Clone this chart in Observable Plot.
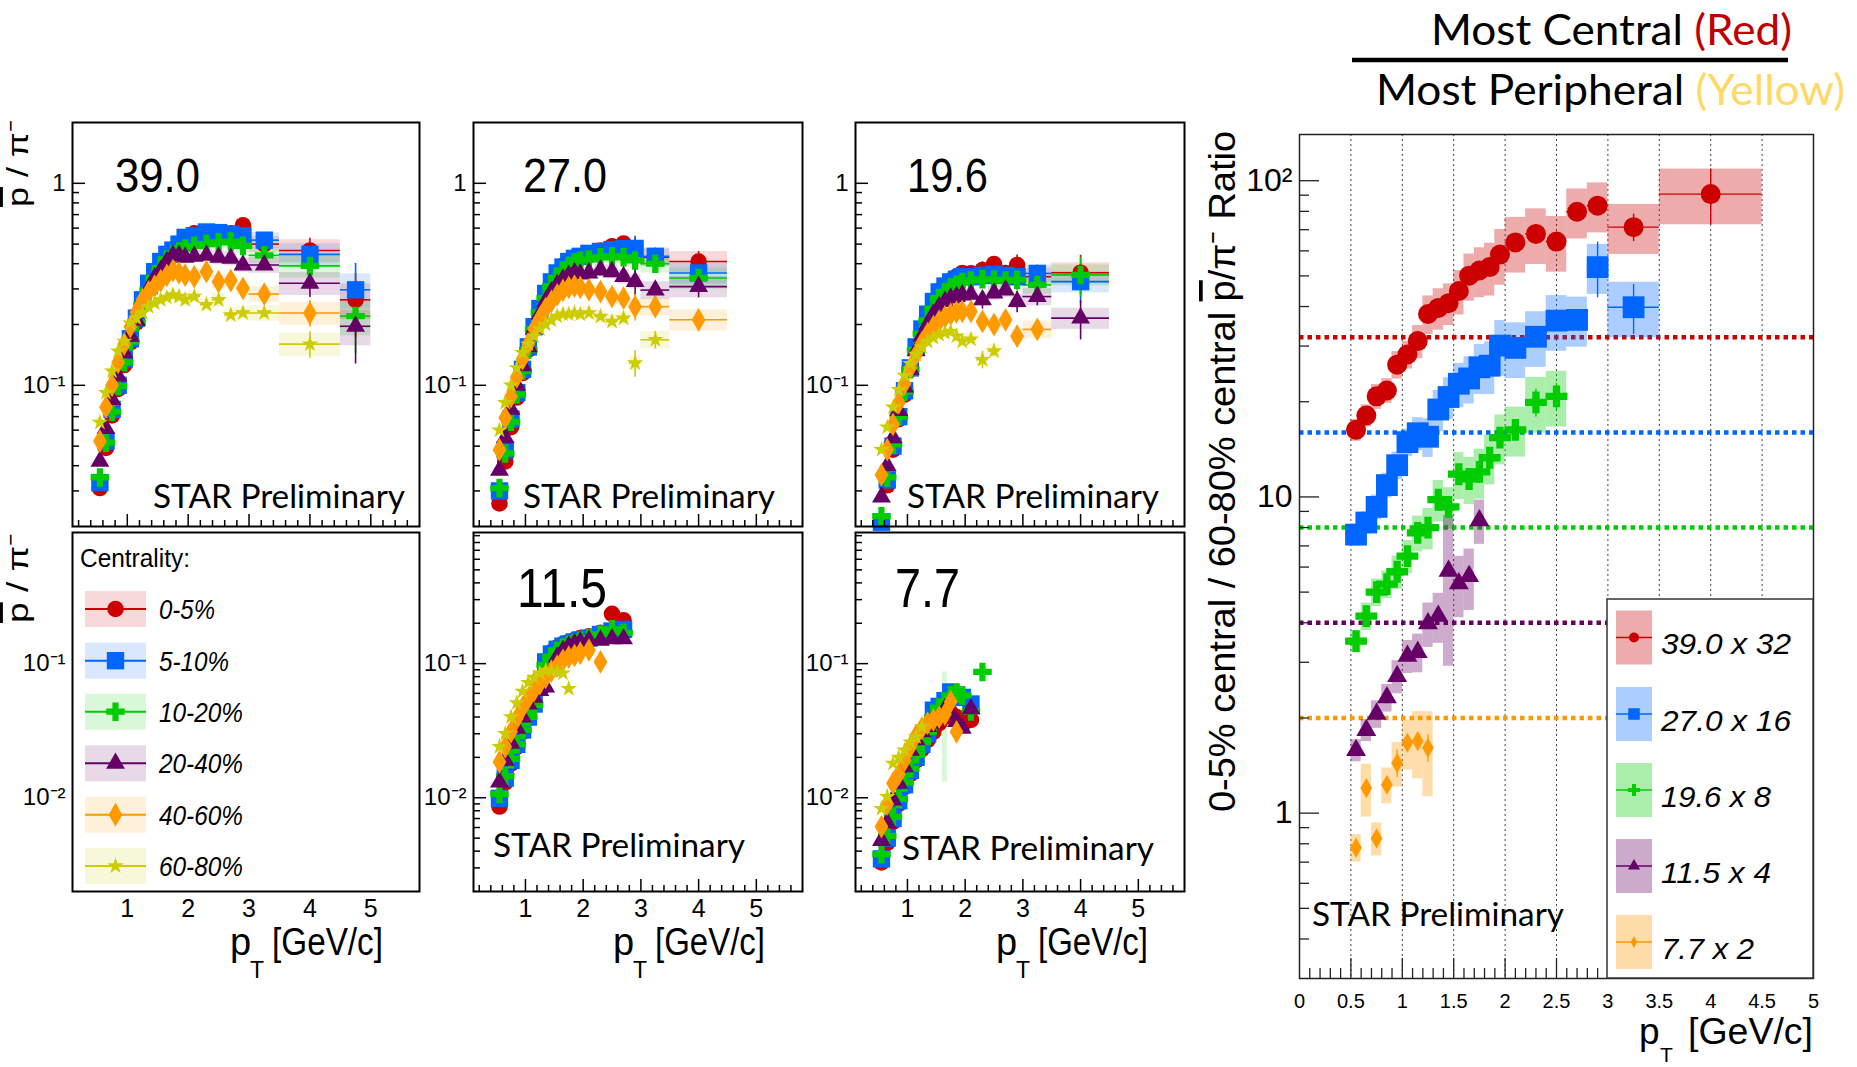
<!DOCTYPE html>
<html>
<head>
<meta charset="utf-8">
<script src="https://cdn.jsdelivr.net/npm/d3@7"></script>
<script src="https://cdn.jsdelivr.net/npm/@observablehq/plot@0.6"></script>
<style>
html, body { margin: 0; padding: 0; background: #fff; }
#root { position: relative; width: 1857px; height: 1067px; overflow: hidden; background: #fff; }
</style>
</head>
<body>
<div id="root"></div>
<script>
// ================= DATA =================
const centralities = ["0-5%", "5-10%", "10-20%", "20-40%", "40-60%", "60-80%"];
const energies = ["39.0", "27.0", "19.6", "11.5", "7.7"];

const ptLow = [0.55, 0.65, 0.75, 0.85, 0.95, 1.05, 1.15, 1.25, 1.35, 1.45, 1.55, 1.65, 1.75, 1.85, 1.95];

// 39 GeV  (pbar/pi- vs pT, one array per centrality)
const pt39 = [...ptLow, 2.1, 2.3, 2.5, 2.7, 2.9, 3.25, 4.0, 4.75];
const half39 = [0.05,0.05,0.05,0.05,0.05,0.05,0.05,0.05,0.05,0.05,0.05,0.05,0.05,0.05,0.05, 0.1,0.1,0.1,0.1,0.1, 0.25,0.5,0.25];
const sys39 = [0.05,0.05,0.05,0.05,0.05,0.05,0.05,0.06,0.06,0.06,0.06,0.06,0.07,0.07,0.07, 0.07,0.07,0.08,0.08,0.08, 0.09,0.13,0.2];
const stat39 = [0.01,0.01,0.01,0.01,0.01,0.01,0.01,0.01,0.01,0.01,0.01,0.01,0.01,0.01,0.01, 0.02,0.02,0.03,0.03,0.04, 0.05,0.15,0.35];
const y39 = [
  [.031,.049,.071,.096,.126,.163,.205,.25,.30,.35,.40,.44,.47,.50,.53, .565,.55,.545,.565,.62, .50,.465,.265],
  [.033,.053,.076,.10,.135,.17,.215,.265,.32,.365,.41,.445,.467,.50,.54, .55,.574,.57,.56,.55, .523,.445,.297],
  [.035,.052,.074,.099,.13,.165,.205,.25,.295,.34,.38,.42,.445,.46,.475, .49,.50,.51,.515,.49, .44,.39,.22],
  [.042,.061,.085,.111,.145,.175,.21,.26,.30,.34,.37,.41,.44,.44,.43, .435,.44,.43,.425,.394, .394,.32,.196],
  [.053,.078,.10,.13,.16,.195,.23,.265,.29,.31,.33,.35,.37,.36,.351, .345,.365,.326,.33,.302, .283,.228,null],
  [.0655,.092,.1175,.1475,.165,.203,.215,.228,.245,.255,.265,.272,.28,.275,.265, .275,.251,.265,.223,.228, .228,.16,null]
];

// 27 GeV
const pt27 = [...ptLow, 2.1, 2.3, 2.5, 2.7, 2.9, 3.25, 4.0];
const half27 = [0.05,0.05,0.05,0.05,0.05,0.05,0.05,0.05,0.05,0.05,0.05,0.05,0.05,0.05,0.05, 0.1,0.1,0.1,0.1,0.1, 0.25,0.5];
const sys27 = [0.05,0.05,0.05,0.05,0.05,0.05,0.05,0.06,0.06,0.06,0.06,0.06,0.06,0.06,0.06, 0.07,0.07,0.08,0.08,0.08, 0.1,0.12];
const stat27 = [0.01,0.01,0.01,0.01,0.01,0.01,0.01,0.01,0.01,0.01,0.01,0.01,0.01,0.01,0.01, 0.02,0.03,0.04,0.05,0.15, 0.1,0.12];
const y27 = [
  [.026,.042,.062,.087,.115,.15,.19,.235,.28,.32,.36,.39,.415,.43,.435, .44,.465,.488,.503,.47, .43,.41],
  [.030,.048,.068,.092,.12,.155,.195,.24,.285,.325,.36,.385,.41,.425,.435, .45,.46,.47,.475,.476, .435,.36],
  [.031,.046,.066,.09,.118,.15,.19,.23,.27,.31,.34,.37,.39,.405,.415, .42,.43,.435,.43,.415, .40,.34],
  [.038,.055,.076,.10,.125,.155,.19,.225,.26,.29,.315,.335,.35,.36,.355, .36,.372,.365,.345,.326, .296,.308],
  [.048,.069,.088,.11,.135,.16,.19,.215,.24,.26,.28,.295,.305,.31,.305, .297,.291,.275,.27,.245, .245,.211],
  [.060,.082,.10,.122,.145,.16,.175,.19,.20,.21,.22,.225,.225,.228,.225, .228,.219,.207,.215,.129, .168,null]
];

// 19.6 GeV
const pt19 = [...ptLow, 2.1, 2.3, 2.5, 2.7, 2.9, 3.25, 4.0];
const half19 = [0.05,0.05,0.05,0.05,0.05,0.05,0.05,0.05,0.05,0.05,0.05,0.05,0.05,0.05,0.05, 0.1,0.1,0.1,0.1,0.1, 0.25,0.5];
const sys19 = [0.05,0.05,0.05,0.05,0.05,0.05,0.05,0.06,0.06,0.06,0.06,0.06,0.06,0.06,0.06, 0.07,0.07,0.08,0.08,0.08, 0.1,0.12];
const stat19 = [0.01,0.01,0.01,0.01,0.01,0.01,0.01,0.01,0.01,0.01,0.01,0.01,0.01,0.01,0.01, 0.03,0.1,0.06,0.06,0.12, 0.1,0.22];
const y19 = [
  [.021,.032,.048,.068,.09,.12,.15,.185,.22,.255,.285,.31,.33,.345,.36, .358,.372,.398,.36,.394, .345,.361],
  [.021,.034,.05,.07,.094,.122,.155,.19,.225,.26,.29,.31,.325,.335,.345, .345,.35,.355,.35,.345, .358,.326],
  [.0225,.035,.051,.07,.093,.12,.15,.18,.21,.24,.27,.29,.305,.315,.325, .33,.335,.333,.33,.333, .314,.352],
  [.028,.040,.055,.075,.098,.12,.148,.175,.20,.225,.245,.26,.27,.275,.28, .282,.265,.286,.296,.26, .275,.215],
  [.036,.048,.064,.082,.102,.122,.142,.162,.18,.195,.208,.218,.225,.23,.232, .232,.207,.20,.211,.175, .189,null],
  [.048,.062,.078,.095,.112,.128,.142,.155,.165,.172,.178,.182,.185,.175,.165, .169,.134,.148,null,null, null,null]
];

// 11.5 GeV
const pt11 = [...ptLow, 2.1, 2.3, 2.5, 2.7];
const half11 = [0.05,0.05,0.05,0.05,0.05,0.05,0.05,0.05,0.05,0.05,0.05,0.05,0.05,0.05,0.05, 0.1,0.1,0.1,0.1];
const sys11 = [0.05,0.05,0.05,0.05,0.05,0.05,0.05,0.05,0.05,0.05,0.05,0.05,0.05,0.05,0.05, 0.06,0.06,0.06,0.06];
const stat11 = [0.01,0.01,0.01,0.01,0.01,0.01,0.01,0.01,0.01,0.01,0.01,0.01,0.01,0.01,0.01, 0.02,0.03,0.04,0.05];
const y11 = [
  [.0086,.013,.018,.024,.031,.039,.05,.068,.105,.122,.132,.14,.145,.15,.155, .16,.17,.235,.21],
  [.0099,.014,.019,.025,.032,.040,.05,.07,.103,.118,.128,.135,.14,.145,.15, .155,.165,.175,.18],
  [.0107,.0145,.0195,.025,.032,.040,.049,.068,.098,.113,.124,.132,.138,.143,.148, .155,.165,.18,.17],
  [.0131,.019,.0255,.033,.040,.050,.056,.063,.067,.09,.112,.125,.135,.141,.145, .149,.149,.153,.153],
  [.0185,.024,.031,.039,.047,.055,.063,.071,.079,.088,.096,.106,.112,.115,.12, .126,.103,null,null],
  [.024,.030,.040,.051,.062,.072,.079,.085,.089,.088,.087,.085,.065,null,null, null,null,null,null]
];

// 7.7 GeV
const pt7 = [...ptLow, 2.1, 2.3];
const half7 = [0.05,0.05,0.05,0.05,0.05,0.05,0.05,0.05,0.05,0.05,0.05,0.05,0.05,0.05,0.05, 0.1,0.1];
const sys7 = [0.05,0.05,0.05,0.05,0.05,0.05,0.05,0.05,0.05,0.05,0.05,0.05,0.05,0.05,0.05, 0.06,0.06];
const stat7 = [0.01,0.01,0.01,0.01,0.01,0.01,0.01,0.01,0.01,0.01,0.01,0.01,0.01,0.01,0.01, 0.04,0.05];
const y7 = [
  [.0033,.0046,.0066,.009,.012,.015,.019,.023,.027,.031,.036,.04,.043,.04,.035, .038,null],
  [.0035,.005,.007,.0095,.0125,.016,.020,.025,.030,.045,.048,.053,.0615,.058,.056, .05,null],
  [.0038,.0052,.0072,.0098,.013,.0165,.021,.026,.031,.04,.047,.052,.058,.06,.058, .044,.0867],
  [.0048,.0065,.0096,.0128,.017,.0226,.027,.031,.034,.036,.04,.046,.042,.037,.033, .046,null],
  [.0061,.009,.0128,.015,.019,.024,.029,.033,.036,.038,.04,.042,.052,.031,null, null,null],
  [.0083,.0102,.018,.020,.0226,.026,.0284,.0337,null,null,null,null,null,null,null, null,null]
];
const p7WideSys = [[1.65, 0.0131, 0.0867]]; // [pT, low, high] for the 10-20% point

// Right panel: 0-5% / 60-80% ratio, scaled
const ratioLabels = ["39.0 x 32", "27.0 x 16", "19.6 x 8", "11.5 x 4", "7.7 x 2"];
const ratioScale = [32, 16, 8, 4, 2];
const ratioPt = [...ptLow, 2.1, 2.3, 2.5, 2.7, 2.9, 3.25, 4.0];
const ratioHalf = [0.05,0.05,0.05,0.05,0.05,0.05,0.05,0.05,0.05,0.05,0.05,0.05,0.05,0.05,0.05, 0.1,0.1,0.1,0.1,0.1, 0.25,0.5];
const ratioY = [
  [16.3,18.1,20.8,21.7,26.2,28.2,31.1,37.9,39.6,41.0,44.8,50.1,52.0,53.3,58.4, 63.8,67.9,64.2,79.8,83.4, 71.3,90.7],
  [7.6,8.3,9.3,10.9,12.6,14.9,15.9,15.5,18.9,20.7,22.8,23.7,25.7,26.0,30.1, 29.6,32.1,36.1,36.3,53.3, 39.8],
  [3.5,4.2,5.0,5.3,5.8,6.5,7.7,8.0,9.8,9.3,11.8,11.4,12.0,13.3,15.4, 16.3,19.9,20.8],
  [1.58,1.83,2.06,2.32,2.71,3.14,3.23,3.98,4.2,5.83,5.32,5.61,8.43],
  [0.778,1.20,0.832,1.23,1.44,1.67,1.69,1.61]
];
const ratioSys = [
  [.08,.08,.09,.09,.1,.1,.12,.14,.15,.15,.16,.17,.18,.19,.2, .2,.2,.2,.18,.18, .18,.2],
  [.08,.08,.09,.09,.1,.1,.12,.14,.15,.15,.16,.17,.18,.19,.2, .2,.2,.2,.18,.18, .2],
  [.08,.1,.1,.1,.12,.12,.13,.15,.15,.15,.17,.17,.18,.18,.18, .18,.2,.2],
  [.08,.08,.1,.1,.12,.12,.14,.16,.18,.5,.22,.22,.16],
  [.1,.19,.12,.13,.16,.18,.24,.3]
];
const ratioStat = [
  [.02,.02,.02,.02,.02,.02,.02,.02,.02,.02,.02,.02,.02,.02,.02, .03,.04,.04,.04,.05, .1,.2],
  [.02,.02,.02,.02,.02,.02,.02,.02,.02,.02,.02,.02,.02,.02,.02, .03,.03,.04,.04,.2, .18],
  [.02,.02,.02,.02,.02,.02,.02,.02,.02,.02,.02,.02,.02,.02,.02, .05,.1,.1],
  [.03,.03,.03,.03,.03,.03,.03,.03,.03,.03,.03,.03,.03],
  [.05,.05,.05,.05,.1,.05,.06,.1]
];

// ================= STYLE =================
const seriesColor = ["#cc0000", "#0066ff", "#00cc00", "#660066", "#ff9900", "#cccc00"];
const seriesSymbol = ["circle", "square", "cross", "triangle", "diamond", "star"];
const leftR = [8.3, 9.8, 7.8, 7.0, 7.2, 5.2];
const rightR = [10, 12.3, 9.2, 7.4, 6.1];
const FONT = "Liberation Sans, Arial, Helvetica, sans-serif";
const CAL = "Lato, 'Open Sans', sans-serif";

const root = document.getElementById("root");

function minorLog(a, b) {
  const out = [];
  for (let e = Math.floor(Math.log10(a)) - 1; e <= Math.ceil(Math.log10(b)); e++)
    for (let k = 2; k <= 9; k++) { const v = k * Math.pow(10, e); if (v > a * 1.0001 && v < b * 0.9999) out.push(v); }
  return out;
}
function linTicks(a, b, step, every) {
  const maj = [], min = [];
  const n = Math.round((b - a) / step);
  for (let i = 0; i <= n + 1; i++) {
    const v = +(Math.ceil(a / step) * step + i * step).toFixed(6);
    if (v <= a + 1e-6 || v >= b - 1e-6) continue;
    const q = v / every;
    if (Math.abs(q - Math.round(q)) < 1e-6) maj.push(v); else min.push(v);
  }
  return [maj, min];
}

function rowsOf(S) {
  const rows = [];
  S.ys.forEach((arr, s) => arr.forEach((v, i) => {
    if (v == null) return;
    rows.push({
      s, x: S.pt[i], y: v, h: S.half[i],
      sys: Array.isArray(S.sys[0]) ? S.sys[s][i] : S.sys[i],
      stat: Array.isArray(S.stat[0]) ? S.stat[s][i] : S.stat[i]
    });
  }));
  return rows;
}

function buildPanel(cfg) {
  const [x0, y0, x1, y1] = cfg.frame;
  const ml = cfg.ml ?? 80, mr = cfg.mr ?? 10, mt = cfg.mt ?? 10, mb = cfg.mb ?? 60;
  const w = x1 - x0, h = y1 - y0;
  const [xa, xb] = cfg.xDomain, [ya, yb] = cfg.yDomain;
  const ppu = w / (xb - xa), ppd = h / Math.log10(yb / ya);
  const marks = [];
  if (cfg.before) marks.push(...cfg.before);
  if (cfg.series) {
    const rows = rowsOf(cfg.series);
    const lw = cfg.lineWidth ?? 1.6;
    marks.push(Plot.rect(rows, {x1: d => d.x - d.h, x2: d => d.x + d.h, y1: d => d.y * (1 - d.sys), y2: d => d.y * (1 + d.sys), fill: d => seriesColor[d.s], fillOpacity: cfg.boxOpacity}));
    if (cfg.extraBoxes) marks.push(...cfg.extraBoxes);
    marks.push(Plot.ruleY(rows, {y: "y", x1: d => d.x - d.h, x2: d => d.x + d.h, stroke: d => seriesColor[d.s], strokeWidth: lw}));
    marks.push(Plot.ruleX(rows, {x: "x", y1: d => d.y * (1 - d.stat), y2: d => d.y * (1 + d.stat), stroke: d => seriesColor[d.s], strokeWidth: lw}));
    for (let s = 0; s < cfg.series.ys.length; s++) {
      marks.push(Plot.dot(rows.filter(d => d.s === s), {x: "x", y: "y", symbol: seriesSymbol[s], fill: seriesColor[s], r: cfg.r[s]}));
    }
  }
  const T = cfg.ticks;
  if (T) {
    const tc = T.color, tw = T.width;
    marks.push(Plot.ruleY(T.yMajor, {y: d => d, x1: () => xa, x2: () => xa + T.yMaj / ppu, stroke: tc, strokeWidth: tw}));
    marks.push(Plot.ruleY(T.yMinor, {y: d => d, x1: () => xa, x2: () => xa + T.yMin / ppu, stroke: tc, strokeWidth: tw}));
    marks.push(Plot.ruleX(T.xMajor, {x: d => d, y1: () => ya, y2: () => ya * Math.pow(10, T.xMaj / ppd), stroke: tc, strokeWidth: tw}));
    marks.push(Plot.ruleX(T.xMinor, {x: d => d, y1: () => ya, y2: () => ya * Math.pow(10, T.xMin / ppd), stroke: tc, strokeWidth: tw}));
  }
  if (cfg.yLabels) marks.push(Plot.text(cfg.yLabels, {x: () => xa, y: d => d[0], text: d => d[1], textAnchor: "end", dx: cfg.yLabelDx ?? -7, fontSize: cfg.yLabelSize, fontFamily: FONT, fill: "#000"}));
  if (cfg.xLabels) marks.push(Plot.text(cfg.xLabels, {x: d => d[0], y: () => ya, text: d => d[1], dy: cfg.xLabelDy, fontSize: cfg.xLabelSize, fontFamily: FONT, fill: "#000"}));
  marks.push(Plot.frame({stroke: cfg.frameColor ?? "#000", strokeWidth: cfg.frameWidth ?? 2}));
  const svg = Plot.plot({
    width: w + ml + mr, height: h + mt + mb,
    marginLeft: ml, marginRight: mr, marginTop: mt, marginBottom: mb,
    x: {domain: cfg.xDomain, axis: null},
    y: {type: "log", domain: cfg.yDomain, axis: null},
    color: {type: "identity"},
    style: {background: "transparent", overflow: "visible", maxWidth: "none", fontFamily: FONT},
    marks
  });
  svg.style.position = "absolute";
  svg.style.left = (x0 - ml) + "px";
  svg.style.top = (y0 - mt) + "px";
  root.appendChild(svg);
}

// ---- left panels ----
const [leftXMaj, leftXMin] = linTicks(0.1, 5.8, 0.2, 1);
const topTicks = {yMajor: [0.1, 1], yMinor: minorLog(0.02, 2), xMajor: leftXMaj, xMinor: leftXMin, yMaj: 13, yMin: 7, xMaj: 12, xMin: 6, color: "#000", width: 1.5};
const botTicks = {yMajor: [0.01, 0.1], yMinor: minorLog(0.002, 0.95), xMajor: leftXMaj, xMinor: leftXMin, yMaj: 13, yMin: 7, xMaj: 12, xMin: 6, color: "#000", width: 1.5};
const topLabels = [[1, "1"], [0.1, "10\u207B\u00B9"]];
const botLabels = [[0.1, "10\u207B\u00B9"], [0.01, "10\u207B\u00B2"]];
const xLab = [[1, "1"], [2, "2"], [3, "3"], [4, "4"], [5, "5"]];

const topPanels = [
  {frame: [72, 122, 419, 526], series: {pt: pt39, half: half39, sys: sys39, stat: stat39, ys: y39}},
  {frame: [473, 122, 802, 526], series: {pt: pt27, half: half27, sys: sys27, stat: stat27, ys: y27}},
  {frame: [855, 122, 1184, 526], series: {pt: pt19, half: half19, sys: sys19, stat: stat19, ys: y19}}
];
topPanels.forEach(p => buildPanel({
  ...p, xDomain: [0.1, 5.8], yDomain: [0.02, 2], ticks: topTicks,
  yLabels: topLabels, yLabelSize: 24, boxOpacity: 0.15, r: leftR, mb: 10
}));

// legend panel (empty frame with axes labels)
buildPanel({frame: [72, 532, 419, 891], xDomain: [0.1, 5.8], yDomain: [0.002, 0.95],
  yLabels: botLabels, yLabelSize: 24, xLabels: xLab, xLabelDy: 17, xLabelSize: 25});

buildPanel({frame: [473, 532, 802, 891], xDomain: [0.1, 5.8], yDomain: [0.002, 0.95], ticks: botTicks,
  series: {pt: pt11, half: half11, sys: sys11, stat: stat11, ys: y11},
  yLabels: botLabels, yLabelSize: 24, xLabels: xLab, xLabelDy: 17, xLabelSize: 25, boxOpacity: 0.15, r: leftR});

buildPanel({frame: [855, 532, 1184, 891], xDomain: [0.1, 5.8], yDomain: [0.002, 0.95], ticks: botTicks,
  series: {pt: pt7, half: half7, sys: sys7, stat: stat7, ys: y7},
  extraBoxes: [Plot.rect(p7WideSys, {x1: d => d[0] - 0.045, x2: d => d[0] + 0.045, y1: d => d[1], y2: d => d[2], fill: seriesColor[2], fillOpacity: 0.15})],
  yLabels: botLabels, yLabelSize: 24, xLabels: xLab, xLabelDy: 17, xLabelSize: 25, boxOpacity: 0.15, r: leftR});

// ---- right panel ----
const [rXMaj, rXMin] = linTicks(0, 5, 0.1, 0.5);
const gridX = [0.5, 1, 1.5, 2, 2.5, 3, 3.5, 4, 4.5];
buildPanel({
  frame: [1299, 134, 1813, 978], xDomain: [0, 5], yDomain: [0.3, 140], ml: 90, mb: 40,
  before: [
    Plot.ruleX(gridX, {x: d => d, stroke: "#444", strokeWidth: 1, strokeDasharray: "2,3"}),
    Plot.ruleY(ratioScale, {y: d => d, stroke: (d, i) => seriesColor[i], strokeWidth: 4.5, strokeDasharray: "4.5,4"})
  ],
  series: {pt: ratioPt, half: ratioHalf, sys: ratioSys, stat: ratioStat, ys: ratioY},
  boxOpacity: 0.33, r: rightR, lineWidth: 1.4,
  ticks: {yMajor: [1, 10, 100], yMinor: minorLog(0.3, 140), xMajor: rXMaj, xMinor: rXMin, yMaj: 20, yMin: 10, xMaj: 20, xMin: 10, color: "#222", width: 1.3},
  yLabels: [[100, "10\u00B2"], [10, "10"], [1, "1"]], yLabelSize: 32,
  xLabels: [[0, "0"], [0.5, "0.5"], [1, "1"], [1.5, "1.5"], [2, "2"], [2.5, "2.5"], [3, "3"], [3.5, "3.5"], [4, "4"], [4.5, "4.5"], [5, "5"]],
  xLabelDy: 23, xLabelSize: 20, frameColor: "#222", frameWidth: 1.5
});

// ================= OVERLAY: titles, labels, legends =================
const ov = d3.select(root).append("svg")
  .attr("width", 1857).attr("height", 1067)
  .style("position", "absolute").style("left", "0px").style("top", "0px").style("overflow", "visible");

function txt(parts, x, y, o = {}) {
  const t = ov.append("text").attr("x", x).attr("y", y)
    .attr("font-family", o.family || FONT).attr("font-size", o.size || 20).attr("fill", o.fill || "#000");
  if (o.italic) t.attr("font-style", "italic");
  if (o.len) t.attr("textLength", o.len).attr("lengthAdjust", "spacingAndGlyphs");
  if (o.anchor) t.attr("text-anchor", o.anchor);
  if (o.rotate) t.attr("transform", `rotate(${o.rotate},${x},${y})`);
  if (typeof parts === "string") parts = [{t: parts}];
  parts.forEach(p => {
    const s = t.append("tspan").text(p.t);
    if (p.fill) s.attr("fill", p.fill);
    if (p.size) s.attr("font-size", p.size);
    if (p.dy) s.attr("dy", p.dy);
    if (p.deco) s.style("text-decoration", p.deco);
  });
  return t;
}

// Title fraction
txt([{t: "Most Central "}, {t: "(Red)", fill: "#c00000"}], 1431, 45, {family: CAL, size: 42, len: 361});
ov.append("line").attr("x1", 1352).attr("x2", 1788).attr("y1", 60).attr("y2", 60).attr("stroke", "#000").attr("stroke-width", 4.5);
txt([{t: "Most Peripheral "}, {t: "(Yellow)", fill: "#ffd966"}], 1376, 105, {family: CAL, size: 42, len: 469});

// Energy labels
const eLab = [[115, 192, 85, 49], [523, 192, 84, 49], [907, 192, 81, 49], [517, 607, 90, 56], [895, 607, 65, 56]];
energies.forEach((e, i) => txt(e, eLab[i][0], eLab[i][1], {size: eLab[i][3], len: eLab[i][2]}));

// STAR Preliminary
[[153, 508], [523, 508], [907, 508], [493, 857], [902, 860], [1312, 926]].forEach(([x, y]) =>
  txt("STAR Preliminary", x, y, {family: CAL, size: 33, len: 252}));

// Y titles (left)
const pbarpi = [{t: "p", deco: "overline"}, {t: " / \u03C0"}, {t: "\u207B"}];
txt(pbarpi, 28, 207, {size: 29, rotate: -90, len: 87});
txt(pbarpi, 28, 623, {size: 29, rotate: -90, len: 90});

// Right Y title
txt([{t: "0-5% central / 60-80% central "}, {t: "p", deco: "overline"}, {t: "/\u03C0"}, {t: "\u207B"}, {t: " Ratio"}],
  1235, 812, {size: 37, rotate: -90, len: 681});

// X titles
function ptTitle(px, base, tx, tbase, bx, blen, size, tsize) {
  txt("p", px, base, {size});
  txt("T", tx, tbase, {size: tsize});
  txt("[GeV/c]", bx, base, {size, len: blen});
}
ptTitle(230, 955, 250, 978, 272, 111, 38, 23);
ptTitle(613, 955, 633, 978, 655, 110, 38, 23);
ptTitle(996, 955, 1016, 978, 1038, 110, 38, 23);
ptTitle(1639, 1044, 1660, 1062, 1688, 125, 37, 21);

// symbols
const symMap = {circle: d3.symbolCircle, square: d3.symbolSquare, cross: d3.symbolCross, triangle: d3.symbolTriangle, diamond: d3.symbolDiamond, star: d3.symbolStar};
function sym(type, x, y, r, fill) {
  ov.append("path").attr("d", d3.symbol().type(symMap[type]).size(Math.PI * r * r)())
    .attr("transform", `translate(${x},${y})`).attr("fill", fill);
}

// Centrality legend (bottom-left panel)
txt("Centrality:", 80, 567, {size: 25.5, len: 110});
const legY = [609, 660.7, 711.7, 763.3, 814.7, 866];
const legLen = [56, 70, 84, 84, 84, 84];
centralities.forEach((c, i) => {
  const cy = legY[i];
  ov.append("rect").attr("x", 85).attr("y", cy - 18).attr("width", 61).attr("height", 36)
    .attr("fill", seriesColor[i]).attr("fill-opacity", 0.15);
  ov.append("line").attr("x1", 85).attr("x2", 146).attr("y1", cy).attr("y2", cy)
    .attr("stroke", seriesColor[i]).attr("stroke-width", 2);
  sym(seriesSymbol[i], 115.5, cy, leftR[i], seriesColor[i]);
  txt(c, 159, cy + 10, {size: 27, italic: true, len: legLen[i]});
});

// Ratio legend (right panel)
ov.append("rect").attr("x", 1607).attr("y", 599).attr("width", 206).attr("height", 379)
  .attr("fill", "#fff").attr("stroke", "#333").attr("stroke-width", 1.5);
const rLegY = [637.5, 714, 790, 866, 942];
const rLegLen = [130, 130, 110, 110, 93];
const rLegR = [5, 6.5, 5, 4.5, 3.6];
ratioLabels.forEach((l, i) => {
  const cy = rLegY[i];
  ov.append("rect").attr("x", 1616).attr("y", cy - 27).attr("width", 36).attr("height", 54)
    .attr("fill", seriesColor[i]).attr("fill-opacity", 0.33);
  ov.append("line").attr("x1", 1616).attr("x2", 1652).attr("y1", cy).attr("y2", cy)
    .attr("stroke", seriesColor[i]).attr("stroke-width", 1.6);
  sym(seriesSymbol[i], 1634, cy, rLegR[i], seriesColor[i]);
  txt(l, 1661, cy + 16.5, {size: 30, italic: true, len: rLegLen[i]});
});
</script>
</body>
</html>
